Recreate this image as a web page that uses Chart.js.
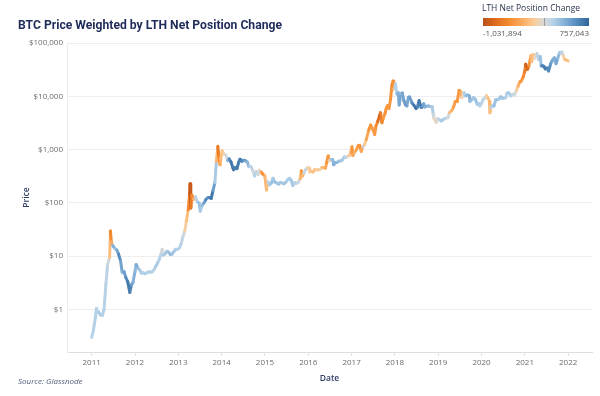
<!DOCTYPE html>
<html><head><meta charset="utf-8">
<script src="https://cdn.jsdelivr.net/npm/chart.js@4.4.1/dist/chart.umd.min.js"></script>
<style>
html,body{margin:0;padding:0;background:#fff;}
#wrap{position:relative;width:600px;height:396px;overflow:hidden;font-family:"Open Sans",sans-serif;}
#c{position:absolute;left:0;top:0;}
#title{position:absolute;left:18px;top:18px;font-family:Roboto,sans-serif;font-weight:bold;font-size:12.5px;line-height:14px;color:#1f2b5b;white-space:nowrap;transform-origin:0 0;}
#legTitle{position:absolute;left:482px;top:2px;font-size:8.5px;line-height:11px;color:#2a3350;white-space:nowrap;}
#legBar{position:absolute;left:483px;top:18px;width:106px;height:8px;}
#legZero{position:absolute;top:18px;width:1px;height:8px;background:#9a9a9a;}
#legMin{position:absolute;left:483px;top:27px;font-size:8px;line-height:11px;color:#555;white-space:nowrap;}
#legMax{position:absolute;right:11px;top:27px;font-size:8px;line-height:11px;color:#555;white-space:nowrap;}
#source{position:absolute;left:18px;top:375px;font-size:8px;line-height:11px;font-style:italic;color:#4e5d78;white-space:nowrap;}
</style>
</head><body>
<div id="wrap">
<canvas id="c" width="600" height="396"></canvas>
<div id="title">BTC Price Weighted by LTH Net Position Change</div>
<div id="legTitle">LTH Net Position Change</div>
<div id="legBar"></div>
<div id="legZero"></div>
<div id="legMin"></div>
<div id="legMax"></div>
<div id="source">Source: Glassnode</div>
</div>
<script>
// ---------- DATA ----------
const legendMin = -1031894;
const legendMax = 757043;
const yearTicks = [2011,2012,2013,2014,2015,2016,2017,2018,2019,2020,2021,2022];
const priceTicks = [1,10,100,1000,10000,100000];

const dates = [
"2011-01-01","2011-01-15","2011-02-01","2011-02-10","2011-02-20","2011-03-01","2011-03-15","2011-04-01","2011-04-15","2011-05-01","2011-05-15","2011-06-01","2011-06-08","2011-06-15","2011-06-25","2011-07-05","2011-07-15","2011-08-01","2011-08-15","2011-09-01","2011-09-15","2011-10-01","2011-10-15","2011-11-01","2011-11-18","2011-12-01","2011-12-15",
"2012-01-01","2012-01-10","2012-01-25","2012-02-10","2012-02-25","2012-03-10","2012-03-25","2012-04-10","2012-04-25","2012-05-10","2012-05-25","2012-06-10","2012-06-25","2012-07-10","2012-07-25","2012-08-10","2012-08-17","2012-08-25","2012-09-10","2012-09-25","2012-10-10","2012-10-25","2012-11-10","2012-11-25","2012-12-10","2012-12-25",
"2013-01-10","2013-01-25","2013-02-10","2013-02-25","2013-03-10","2013-03-25","2013-04-05","2013-04-10","2013-04-16","2013-04-25","2013-05-10","2013-05-25","2013-06-10","2013-06-25","2013-07-05","2013-07-20","2013-08-05","2013-08-20","2013-09-05","2013-09-20","2013-10-05","2013-10-20","2013-11-05","2013-11-18","2013-11-30","2013-12-07","2013-12-18","2013-12-25",
"2014-01-05","2014-01-20","2014-02-05","2014-02-20","2014-03-05","2014-03-20","2014-04-05","2014-04-12","2014-04-25","2014-05-10","2014-05-25","2014-06-05","2014-06-20","2014-07-05","2014-07-20","2014-08-05","2014-08-18","2014-09-05","2014-09-20","2014-10-05","2014-10-20","2014-11-05","2014-11-15","2014-12-01","2014-12-15","2014-12-31",
"2015-01-14","2015-01-25","2015-02-10","2015-02-25","2015-03-10","2015-03-25","2015-04-10","2015-04-25","2015-05-10","2015-05-25","2015-06-10","2015-06-25","2015-07-10","2015-07-25","2015-08-10","2015-08-24","2015-09-10","2015-09-25","2015-10-10","2015-10-25","2015-11-04","2015-11-12","2015-11-25","2015-12-10","2015-12-25",
"2016-01-10","2016-01-16","2016-01-25","2016-02-10","2016-02-25","2016-03-10","2016-03-25","2016-04-10","2016-04-25","2016-05-10","2016-05-25","2016-06-05","2016-06-17","2016-06-25","2016-07-10","2016-07-25","2016-08-03","2016-08-15","2016-09-01","2016-09-15","2016-10-01","2016-10-15","2016-11-01","2016-11-15","2016-12-01","2016-12-15","2016-12-25",
"2017-01-04","2017-01-12","2017-01-25","2017-02-10","2017-02-25","2017-03-10","2017-03-24","2017-04-05","2017-04-20","2017-05-05","2017-05-25","2017-06-10","2017-06-25","2017-07-15","2017-07-25","2017-08-10","2017-08-25","2017-09-01","2017-09-14","2017-09-25","2017-10-10","2017-10-20","2017-11-01","2017-11-12","2017-11-25","2017-12-07","2017-12-17","2017-12-22","2017-12-31",
"2018-01-06","2018-01-17","2018-01-28","2018-02-06","2018-02-20","2018-03-05","2018-03-18","2018-04-01","2018-04-12","2018-04-24","2018-05-05","2018-05-25","2018-06-10","2018-06-28","2018-07-10","2018-07-24","2018-08-10","2018-08-20","2018-09-01","2018-09-10","2018-09-20","2018-10-10","2018-10-25","2018-11-10","2018-11-20","2018-11-25","2018-12-10","2018-12-15","2018-12-25",
"2019-01-10","2019-01-28","2019-02-10","2019-02-25","2019-03-10","2019-03-25","2019-04-05","2019-04-25","2019-05-10","2019-05-25","2019-06-10","2019-06-26","2019-07-10","2019-07-17","2019-07-25","2019-08-06","2019-08-20","2019-09-05","2019-09-20","2019-09-26","2019-10-10","2019-10-26","2019-11-10","2019-11-25","2019-12-10","2019-12-18","2019-12-30",
"2020-01-15","2020-02-01","2020-02-12","2020-02-25","2020-03-08","2020-03-12","2020-03-20","2020-04-01","2020-04-15","2020-04-30","2020-05-10","2020-05-25","2020-06-10","2020-06-25","2020-07-10","2020-07-25","2020-08-01","2020-08-15","2020-09-05","2020-09-20","2020-10-05","2020-10-21","2020-11-05","2020-11-20","2020-12-01","2020-12-17","2020-12-31",
"2021-01-08","2021-01-22","2021-02-05","2021-02-21","2021-02-28","2021-03-13","2021-03-25","2021-04-13","2021-04-25","2021-05-10","2021-05-19","2021-05-25","2021-06-10","2021-06-22","2021-07-05","2021-07-20","2021-08-05","2021-08-20","2021-09-06","2021-09-21","2021-10-05","2021-10-20","2021-11-08","2021-11-20","2021-12-04","2021-12-15","2021-12-31"
];

const prices = [
0.30,0.40,0.70,1.05,0.90,0.90,0.80,0.78,1.00,3.0,7.0,9.5,29.6,19,16,15,14,13,11,8.2,5.0,5.1,4.0,3.3,2.1,2.9,3.2,
5.2,7.0,6.0,5.5,4.8,4.9,4.7,4.9,5.1,5.0,5.1,5.6,6.5,7.5,8.8,11.2,13.5,10.5,11.0,12.3,11.9,10.8,11.0,12.3,13.5,13.4,
14.2,17.2,24,30,46,74,140,230,80,140,117,130,105,100,70,90,100,115,125,126,122,170,240,600,1150,750,520,680,
950,830,800,620,670,590,460,420,460,440,580,660,600,630,620,585,480,480,410,320,385,340,410,380,345,320,
175,250,220,237,290,247,236,226,241,237,229,243,270,289,265,211,240,234,245,285,400,320,360,420,455,
450,385,395,380,425,415,418,422,465,455,450,575,760,620,650,655,520,570,575,607,615,640,730,710,750,780,890,
1130,780,890,990,1180,1200,930,1130,1230,1550,2300,2900,2500,1930,2750,3400,4350,4900,3200,3900,4800,6000,6700,5900,8700,16000,19300,13800,14000,
17100,11000,11700,6900,11200,11500,8200,6900,6600,9600,9700,7500,6800,5900,6300,8300,6200,6300,7200,6300,6500,6600,6450,6400,4600,3900,3450,3250,3800,
3650,3450,3650,3800,3900,3980,4950,5400,6300,8000,8000,12900,12100,9500,9800,11800,10200,10600,10200,8100,8600,9500,8800,7100,7300,6600,7200,
8800,9400,10300,9300,8000,4900,6200,6600,6600,8700,8600,8800,9800,9200,9200,9600,11300,11800,10200,10900,10600,12800,15500,18700,19200,22800,29000,
40000,32000,38000,57500,45000,61000,52000,63500,49000,56000,37000,38000,36500,32500,34000,29800,40000,47000,52600,41000,51500,65900,67500,58000,49000,48000,46300
];

const lthChange = [
150000,160000,170000,150000,140000,180000,200000,160000,150000,120000,40000,-250000,-600000,-400000,300000,380000,250000,400000,550000,420000,300000,450000,550000,650000,600000,450000,350000,
300000,380000,250000,200000,180000,150000,180000,160000,140000,170000,150000,160000,200000,180000,150000,60000,20000,180000,220000,200000,260000,280000,240000,200000,180000,150000,
150000,120000,60000,-150000,-250000,-600000,-850000,-950000,-700000,-600000,-300000,150000,180000,250000,200000,300000,450000,550000,500000,600000,650000,450000,200000,-300000,-700000,-600000,-350000,-250000,
-200000,-100000,30000,300000,550000,650000,600000,650000,600000,650000,600000,650000,550000,500000,400000,300000,200000,100000,50000,150000,100000,20000,-50000,-500000,-550000,-300000,
-250000,120000,200000,250000,200000,260000,220000,250000,220000,200000,230000,200000,180000,200000,220000,180000,150000,100000,50000,-300000,-500000,-300000,50000,100000,-100000,
-200000,-250000,-200000,-250000,-200000,-150000,-200000,-100000,-250000,-300000,-400000,-550000,-500000,-100000,200000,300000,350000,320000,300000,250000,250000,200000,150000,100000,-50000,-200000,-350000,
-500000,-400000,-350000,-450000,-500000,-550000,-400000,100000,-200000,-400000,-550000,-500000,-450000,-500000,-600000,-800000,-950000,-700000,-600000,-500000,-550000,-500000,-550000,-500000,-550000,-600000,-550000,-300000,100000,
150000,250000,350000,400000,300000,400000,450000,500000,400000,350000,450000,550000,650000,700000,600000,650000,600000,500000,400000,350000,350000,300000,250000,200000,50000,-50000,-100000,-30000,50000,
150000,200000,180000,150000,100000,30000,-250000,-350000,-450000,-550000,-500000,-550000,-350000,-150000,-50000,150000,250000,300000,350000,300000,250000,200000,250000,200000,180000,150000,150000,
100000,50000,-150000,-250000,-300000,-250000,100000,200000,250000,200000,250000,200000,250000,220000,200000,150000,180000,200000,150000,100000,30000,-150000,-350000,-450000,-500000,-600000,-700000,
-900000,-800000,-500000,-300000,-250000,-200000,-50000,100000,150000,250000,450000,550000,650000,650000,600000,550000,450000,400000,350000,400000,300000,200000,100000,-150000,-250000,-250000,-200000
];

// ---------- HELPERS ----------
function decYear(s){
  const [y,m,d]=s.split('-').map(Number);
  const t=Date.UTC(y,m-1,d), t0=Date.UTC(y,0,1), t1=Date.UTC(y+1,0,1);
  return y+(t-t0)/(t1-t0);
}
const negStops=[[0,[217,217,217]],[0.15,[249,207,160]],[0.3,[253,180,110]],[0.55,[246,143,51]],[0.8,[222,106,29]],[1,[185,80,28]]];
const posStops=[[0,[217,217,217]],[0.2,[182,210,232]],[0.45,[132,177,216]],[0.7,[90,143,194]],[1,[47,100,151]]];
function interp(stops,u){
  u=Math.max(0,Math.min(1,u));
  for(let i=1;i<stops.length;i++){
    if(u<=stops[i][0]){
      const a=stops[i-1],b=stops[i],f=(u-a[0])/(b[0]-a[0]);
      const c=a[1].map((v,k)=>Math.round(v+(b[1][k]-v)*f));
      return 'rgb('+c.join(',')+')';
    }
  }
  const l=stops[stops.length-1][1];return 'rgb('+l.join(',')+')';
}
function colorFor(v){
  return v<0 ? interp(negStops,-v/(-legendMin)) : interp(posStops,v/legendMax);
}

// ---------- LEGEND ----------
(function(){
  const parts=[];
  for(let i=0;i<=40;i++){
    const v=legendMin+(legendMax-legendMin)*i/40;
    parts.push(colorFor(v)+' '+(i*2.5)+'%');
  }
  document.getElementById('legBar').style.background='linear-gradient(to right,'+parts.join(',')+')';
  const zx=483+106*(-legendMin)/(legendMax-legendMin);
  document.getElementById('legZero').style.left=Math.round(zx)+'px';
  document.getElementById('legMin').textContent=legendMin.toLocaleString('en-US');
  document.getElementById('legMax').textContent=legendMax.toLocaleString('en-US');
  const t=document.getElementById('title');
  const w=t.getBoundingClientRect().width;
  t.style.transform='scaleX('+(264/w)+')';
})();

// ---------- CHART ----------
const pts=dates.map((d,i)=>({x:decYear(d),y:prices[i]}));
const tickFont={family:'"Open Sans", sans-serif',size:8};
new Chart(document.getElementById('c'),{
  type:'line',
  data:{datasets:[{
    data:pts,
    borderWidth:3,
    pointRadius:0,
    tension:0,
    borderCapStyle:'round',
    borderJoinStyle:'round',
    borderColor:colorFor(lthChange[0]),
    segment:{borderColor:ctx=>colorFor(lthChange[ctx.p0DataIndex])}
  }]},
  options:{
    responsive:false,
    animation:false,
    devicePixelRatio:1,
    layout:{padding:{top:43,right:8,left:0,bottom:0}},
    plugins:{legend:{display:false},tooltip:{enabled:false}},
    scales:{
      x:{
        type:'linear',min:2010.43,max:2022.55,
        afterBuildTicks:s=>{s.ticks=yearTicks.map(v=>({value:v}));},
        afterFit:s=>{s.height=44;},
        ticks:{autoSkip:false,maxRotation:0,padding:2,color:'#6b6b6b',font:tickFont,callback:v=>String(v)},
        grid:{display:true,drawOnChartArea:false,drawTicks:true,tickLength:4,tickColor:'#e2e2e2'},
        border:{display:true,color:'#dedede'},
        title:{display:true,text:'Date',color:'#2e3b63',font:{family:'"Open Sans", sans-serif',size:8.5,weight:'600'},padding:{top:0,bottom:12.6}}
      },
      y:{
        type:'logarithmic',min:0.1596,max:100000,
        afterBuildTicks:s=>{s.ticks=priceTicks.map(v=>({value:v}));},
        afterFit:s=>{s.width=67;},
        ticks:{padding:4,color:'#6b6b6b',font:tickFont,callback:v=>'$'+Number(v).toLocaleString('en-US')},
        grid:{display:true,drawTicks:false,color:'#eeeeee',lineWidth:1},
        border:{display:true,color:'#ececec'},
        title:{display:true,text:'Price',color:'#2e3b63',font:{family:'"Open Sans", sans-serif',size:8.5,weight:'600'},padding:{top:21.6,bottom:0}}
      }
    }
  }
});
</script>
</body></html>
